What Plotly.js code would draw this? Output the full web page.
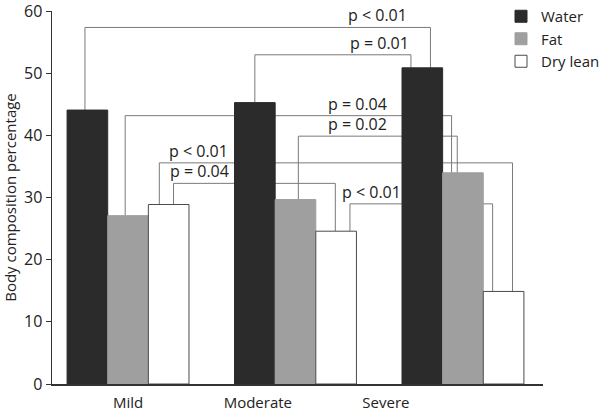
<!DOCTYPE html>
<html>
<head>
<meta charset="utf-8">
<script src="https://cdn.plot.ly/plotly-3.0.1.min.js"></script>
<style>html,body{margin:0;padding:0;background:#fff;}#chart{width:600px;height:411px;}</style>
</head>
<body>
<div id="chart"></div>
<script>
// ---- data ----
const groups = ["Mild", "Moderate", "Severe"];
const seriesNames = ["Water", "Fat", "Dry lean"];
const water = [44.1, 45.3, 50.9];
const fat = [27.1, 29.7, 34.0];
const dryLean = [28.9, 24.6, 14.9];
const yTickValues = [0, 10, 20, 30, 40, 50, 60];

// significance brackets
const bracketLabels = ["p < 0.01", "p = 0.01", "p = 0.04", "p = 0.02", "p < 0.01", "p = 0.04", "p < 0.01"];
const bracketFromGroup = [0, 1, 0, 1, 0, 0, 1];
const bracketFromSeries = [0, 0, 1, 1, 2, 2, 2];
const bracketToGroup = [2, 2, 2, 2, 2, 1, 2];
const bracketToSeries = [0, 0, 1, 1, 2, 2, 2];
const bracketLevel = [57.4, 53.0, 43.2, 39.9, 35.6, 32.3, 29.0];

// ---- layout helpers (positions / styles) ----
const groupX = [0, 1, 2];
const tickPositions = [0, 0.775, 1.54];       // where the original figure printed its group labels
const bargap = 0.272;
const barW = (1 - bargap) / 3;
const seriesOffset = [-barW, 0, barW];
const legFromNudge = [-0.06, 0, -0.07, 0.07, -0.23, 0.12, 0.34];
const legToNudge = [0.2, -0.28, -0.28, -0.14, 0.22, -0.02, -0.27];
const labelX = [1.487, 1.504, 1.373, 1.373, 0.418, 0.424, 1.451];

const values = [water, fat, dryLean];
const fills = ["#2b2b2b", "#9f9f9f", "#ffffff"];
const edges = ["#2b2b2b", "#9f9f9f", "#4a4a4a"];
const FONT = "Open Sans, Noto Sans, sans-serif";

const traces = seriesNames.map((name, s) => ({
  type: "bar",
  name: name,
  x: groupX,
  y: values[s],
  marker: {color: fills[s], line: {color: edges[s], width: 1}},
  hoverinfo: "skip"
}));

const shapes = [];
const annotations = [];
for (let i = 0; i < bracketLabels.length; i++) {
  const x1 = groupX[bracketFromGroup[i]] + seriesOffset[bracketFromSeries[i]] + legFromNudge[i] * barW;
  const y1 = values[bracketFromSeries[i]][bracketFromGroup[i]];
  const x2 = groupX[bracketToGroup[i]] + seriesOffset[bracketToSeries[i]] + legToNudge[i] * barW;
  const y2 = values[bracketToSeries[i]][bracketToGroup[i]];
  const L = bracketLevel[i];
  shapes.push({
    type: "path", xref: "x", yref: "y", layer: "below",
    path: `M ${x1},${y1} L ${x1},${L} L ${x2},${L} L ${x2},${y2}`,
    line: {color: "#7a7a7a", width: 1}
  });
  annotations.push({
    x: labelX[i], y: L, xref: "x", yref: "y",
    text: bracketLabels[i], showarrow: false,
    xanchor: "center", yanchor: "bottom", yshift: -1,
    font: {family: FONT, size: 16, color: "#222"}
  });
}

const layout = {
  width: 600, height: 411,
  margin: {l: 52, r: 57, t: 11, b: 27, autoexpand: false},
  paper_bgcolor: "#fff", plot_bgcolor: "#fff",
  barmode: "group", bargap: bargap, bargroupgap: 0,
  showlegend: true,
  legend: {xref: "container", yref: "container", x: 0.835, y: 1.005, xanchor: "left", yanchor: "top",
           font: {family: FONT, size: 15, color: "#222"}, bgcolor: "rgba(0,0,0,0)", tracegroupgap: 0},
  xaxis: {
    type: "linear", range: [-0.454, 2.478],
    tickvals: tickPositions, ticktext: groups,
    ticks: "", showgrid: false, zeroline: false,
    showline: true, linecolor: "#333", linewidth: 1.5,
    ticklabelstandoff: 4,
    tickfont: {family: FONT, size: 15, color: "#222"}
  },
  yaxis: {
    range: [0, 60.05], tickvals: yTickValues,
    ticks: "outside", ticklen: 5, tickwidth: 1, tickcolor: "#333",
    ticklabeloverflow: "allow",
    showgrid: false, zeroline: false,
    showline: true, linecolor: "#333", linewidth: 1.5,
    tickfont: {family: FONT, size: 16, color: "#222"},
    title: {text: "Body composition percentage", font: {family: FONT, size: 15, color: "#222"}, standoff: 5}
  },
  shapes: shapes,
  annotations: annotations,
  font: {family: FONT}
};

Plotly.newPlot("chart", traces, layout, {displayModeBar: false, staticPlot: true});
</script>
</body>
</html>
